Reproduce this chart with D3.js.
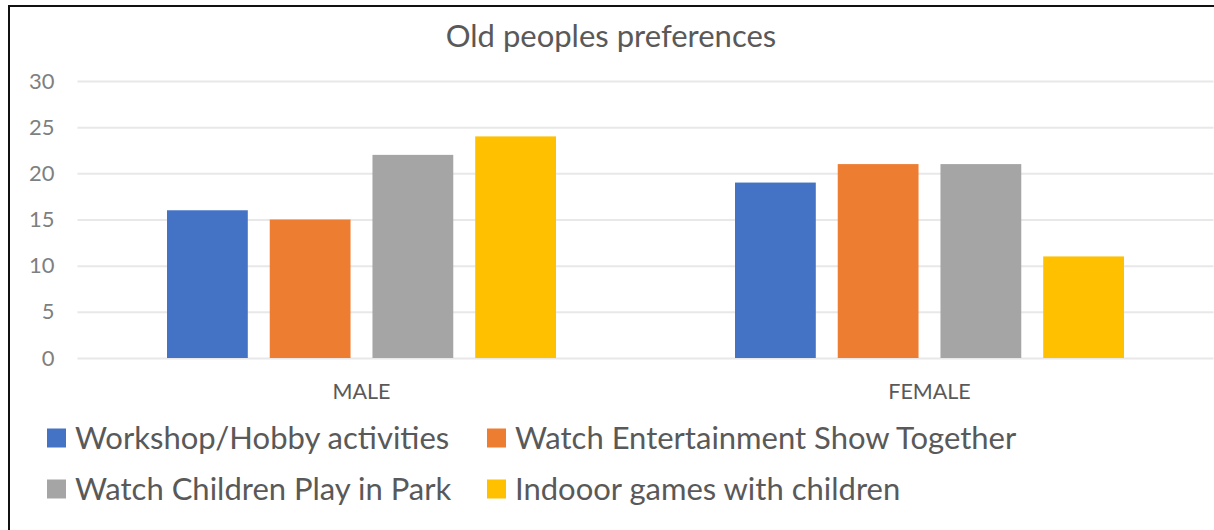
<!DOCTYPE html>
<html>
<head>
<meta charset="utf-8">
<script src="https://cdn.jsdelivr.net/npm/d3@7"></script>
<style>
  html, body { margin: 0; padding: 0; background: #fff; }
  svg { display: block; font-family: Lato, "Open Sans", sans-serif; }
</style>
</head>
<body>
<svg class="chart"></svg>
<script>
"use strict";

var width  = 1214,
    height = 530;

var categories = ["MALE", "FEMALE"];
var series = ["Workshop/Hobby activities", "Watch Entertainment Show Together",
              "Watch Children Play in Park", "Indooor games with children"];
var values = [
    [16, 19],   // Workshop/Hobby activities
    [15, 21],   // Watch Entertainment Show Together
    [22, 21],   // Watch Children Play in Park
    [24, 11]    // Indooor games with children
];
var colors = ["#4472c4", "#ed7d31", "#a5a5a5", "#ffc000"];
var yTicks = [0, 5, 10, 15, 20, 25, 30];

var chart = d3.select(".chart")
              .attr("width", width)
              .attr("height", height);

// frame (only top and left edges are visible in the crop)
chart.append("path")
     .attr("d", "M9,530 L9,6 L1214,6")
     .attr("fill", "none")
     .attr("stroke", "#111")
     .attr("stroke-width", 2);

chart.append("text")
     .attr("x", 611)
     .attr("y", 47)
     .attr("text-anchor", "middle")
     .attr("font-size", 31)
     .attr("fill", "#595959")
     .text("Old peoples preferences");

var plot = {left: 77.5, right: 1213.5, top: 81, bottom: 358};

var x0 = d3.scaleBand()
           .domain(categories)
           .range([plot.left, plot.right])
           .paddingInner(0)
           .paddingOuter(0);

// bars take 4*81 + 3*22 of a 568 band
var x1 = d3.scaleBand()
           .domain(d3.range(series.length))
           .range([89.5, x0.bandwidth() - 89.5])
           .paddingInner(22 / 103)
           .paddingOuter(0);

var y = d3.scaleLinear()
          .domain([0, 30])
          .range([plot.bottom, plot.top]);

var yAxis = chart.append("g")
     .attr("transform", "translate(" + plot.left + ",0)")
     .call(d3.axisLeft(y).tickValues(yTicks).tickSize(-(plot.right - plot.left)).tickPadding(23));

yAxis.select(".domain").remove();
yAxis.selectAll(".tick line")
     .attr("stroke", "#e8e8e8")
     .attr("stroke-width", 2);
yAxis.selectAll(".tick text")
     .attr("fill", "#7f7f7f")
     .attr("font-size", 22)
     .attr("font-family", "Lato, sans-serif");

var groups = chart.selectAll(".group")
     .data(categories)
     .enter()
     .append("g")
         .attr("class", "group")
         .attr("transform", function(d) { return "translate(" + x0(d) + ",0)"; });

groups.selectAll("rect")
     .data(function(d, ci) { return series.map(function(s, si) { return {si: si, v: values[si][ci]}; }); })
     .enter()
     .append("rect")
         .attr("x", function(d) { return x1(d.si); })
         .attr("width", x1.bandwidth())
         .attr("y", function(d) { return y(d.v); })
         .attr("height", function(d) { return y(0) - y(d.v); })
         .attr("fill", function(d) { return colors[d.si]; });

groups.append("text")
     .attr("x", x0.bandwidth() / 2)
     .attr("y", 399)
     .attr("text-anchor", "middle")
     .attr("font-size", 21.5)
     .attr("fill", "#595959")
     .text(function(d) { return d; });

// legend, two columns
var legendPos = [[47, 438], [487, 438], [47, 489], [487, 489]];
var legend = chart.selectAll(".legend")
     .data(series)
     .enter()
     .append("g")
         .attr("class", "legend")
         .attr("transform", function(d, i) { return "translate(" + legendPos[i][0] + "," + legendPos[i][1] + ")"; });

legend.append("rect")
     .attr("x", 0)
     .attr("y", -9.5)
     .attr("width", 19)
     .attr("height", 19)
     .attr("fill", function(d, i) { return colors[i]; });

legend.append("text")
     .attr("x", 28)
     .attr("dy", ".35em")
     .attr("font-size", 31)
     .attr("fill", "#595959")
     .text(function(d) { return d; });
</script>
</body>
</html>
